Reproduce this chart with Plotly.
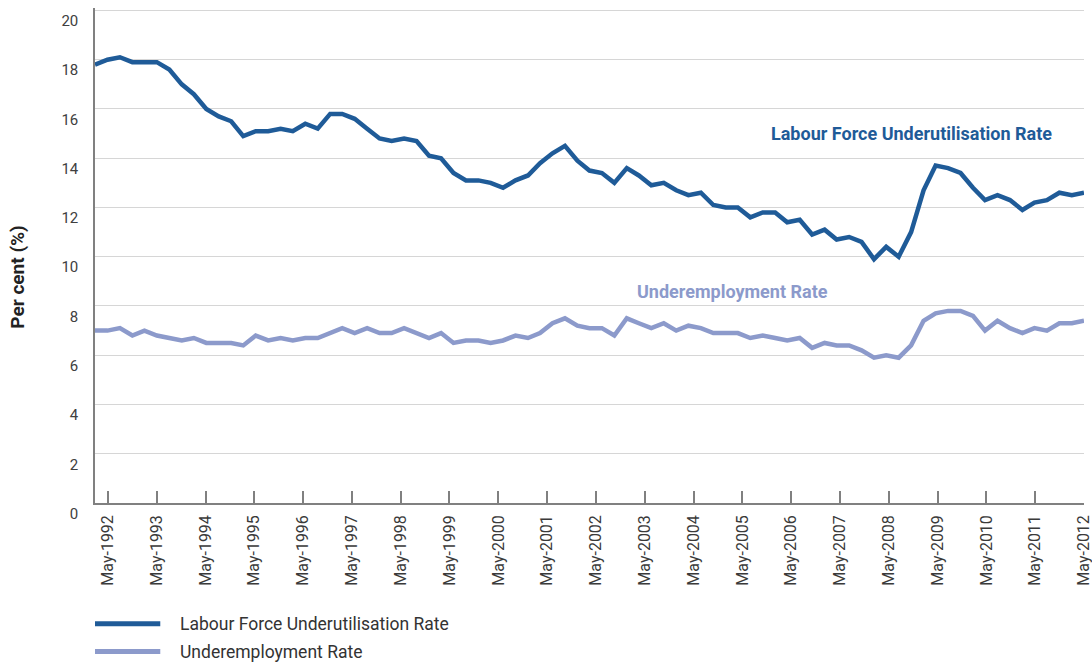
import pandas as pd
import plotly.graph_objects as go

# Quarterly observations, May-1992 to May-2012
quarters = pd.date_range("1992-05-01", "2012-05-01", freq="3MS")

labour_force_underutilisation = [
    17.8, 18.0, 18.1, 17.9, 17.9, 17.9, 17.6, 17.0, 16.6, 16.0,
    15.7, 15.5, 14.9, 15.1, 15.1, 15.2, 15.1, 15.4, 15.2, 15.8,
    15.8, 15.6, 15.2, 14.8, 14.7, 14.8, 14.7, 14.1, 14.0, 13.4,
    13.1, 13.1, 13.0, 12.8, 13.1, 13.3, 13.8, 14.2, 14.5, 13.9,
    13.5, 13.4, 13.0, 13.6, 13.3, 12.9, 13.0, 12.7, 12.5, 12.6,
    12.1, 12.0, 12.0, 11.6, 11.8, 11.8, 11.4, 11.5, 10.9, 11.1,
    10.7, 10.8, 10.6, 9.9, 10.4, 10.0, 11.0, 12.7, 13.7, 13.6,
    13.4, 12.8, 12.3, 12.5, 12.3, 11.9, 12.2, 12.3, 12.6, 12.5,
    12.6,
]

underemployment = [
    7.0, 7.0, 7.1, 6.8, 7.0, 6.8, 6.7, 6.6, 6.7, 6.5,
    6.5, 6.5, 6.4, 6.8, 6.6, 6.7, 6.6, 6.7, 6.7, 6.9,
    7.1, 6.9, 7.1, 6.9, 6.9, 7.1, 6.9, 6.7, 6.9, 6.5,
    6.6, 6.6, 6.5, 6.6, 6.8, 6.7, 6.9, 7.3, 7.5, 7.2,
    7.1, 7.1, 6.8, 7.5, 7.3, 7.1, 7.3, 7.0, 7.2, 7.1,
    6.9, 6.9, 6.9, 6.7, 6.8, 6.7, 6.6, 6.7, 6.3, 6.5,
    6.4, 6.4, 6.2, 5.9, 6.0, 5.9, 6.4, 7.4, 7.7, 7.8,
    7.8, 7.6, 7.0, 7.4, 7.1, 6.9, 7.1, 7.0, 7.3, 7.3,
    7.4,
]

series_names = ["Labour Force Underutilisation Rate", "Underemployment Rate"]
series_colors = ["#1f5b98", "#8c9acb"]

tick_years = list(range(1992, 2013))
tick_dates = [f"{y}-05-01" for y in tick_years]
tick_labels = [f"May-{y}" for y in tick_years]
y_ticks = list(range(0, 21, 2))
y_title = "Per cent (%)"

FONT = "Roboto"
AXIS_GREY = "#808080"

fig = go.Figure()
for name, vals, col in zip(series_names,
                           [labour_force_underutilisation, underemployment],
                           series_colors):
    fig.add_trace(go.Scatter(
        x=quarters, y=vals, mode="lines", name=name,
        line=dict(color=col, width=4.5), showlegend=False,
    ))

# carrier trace so that the labelled date axis is drawn
fig.add_trace(go.Scatter(
    x=tick_dates, y=[None] * len(tick_dates), xaxis="x2", yaxis="y",
    mode="lines", showlegend=False, hoverinfo="skip",
))

fig.update_layout(
    width=1092, height=664,
    margin=dict(l=95, r=8, t=8, b=160.5),
    plot_bgcolor="white", paper_bgcolor="white",
    font=dict(family=FONT, color="#333333"),
    xaxis=dict(
        type="date", range=[quarters[0], quarters[-1]],
        showticklabels=False, showgrid=False, showline=False,
        zeroline=False, ticks="", automargin=False,
    ),
    xaxis2=dict(
        type="date", overlaying="x", anchor="y", side="bottom",
        range=["1992-01-25", "2012-05-01"],
        tickmode="array", tickvals=tick_dates, ticktext=tick_labels,
        tickangle=-90, ticks="inside", ticklen=12, tickwidth=1.5,
        tickcolor=AXIS_GREY, showline=True, linecolor=AXIS_GREY,
        linewidth=1.5, showgrid=False, zeroline=False, automargin=False,
        ticklabelstandoff=4, ticklabeloverflow="allow",
        tickfont=dict(family=FONT, size=16, color="#3a3a3a"),
    ),
    yaxis=dict(
        range=[0, 20.1], tickmode="array", tickvals=y_ticks,
        showgrid=True, gridcolor="#d6d6d6", gridwidth=1,
        showline=True, linecolor=AXIS_GREY, linewidth=1.5,
        zeroline=False, ticks="", ticklabelstandoff=12, automargin=False,
        ticklabelposition="outside bottom", ticklabeloverflow="allow",
        tickfont=dict(family=FONT, size=15, color="#404040"),
    ),
)

# Axis title, placed as in the reference (slightly below the axis centre)
fig.add_annotation(
    x=-0.078, xref="paper", y=0.457, yref="paper",
    xanchor="center", yanchor="middle", textangle=-90,
    text=y_title, showarrow=False,
    font=dict(family=FONT, size=19, color="#222222", weight="bold"),
)

# Direct series labels
fig.add_annotation(
    x=0.826, xref="paper", y=15.0, yref="y", xanchor="center",
    text=series_names[0], showarrow=False,
    font=dict(family=FONT, size=18, color=series_colors[0], weight="bold"),
)
fig.add_annotation(
    x=0.645, xref="paper", y=8.6, yref="y", xanchor="center",
    text=series_names[1], showarrow=False,
    font=dict(family=FONT, size=18, color=series_colors[1], weight="bold"),
)

# Legend below the axis
legend_rows = [-0.244, -0.300]
for name, col, yy in zip(series_names, series_colors, legend_rows):
    fig.add_shape(type="line", xref="paper", yref="paper",
                  x0=0.0, x1=0.066, y0=yy, y1=yy,
                  line=dict(color=col, width=5))
    fig.add_annotation(x=0.084, xref="paper", y=yy, yref="paper",
                       xanchor="left", yanchor="middle", showarrow=False,
                       text=name,
                       font=dict(family=FONT, size=17.5, color="#333333"))

# remove the browser's default page margin so the figure fills the window
fig.write_html("out.html", config={"displayModeBar": False},
               post_script="document.body.style.margin='0';")
